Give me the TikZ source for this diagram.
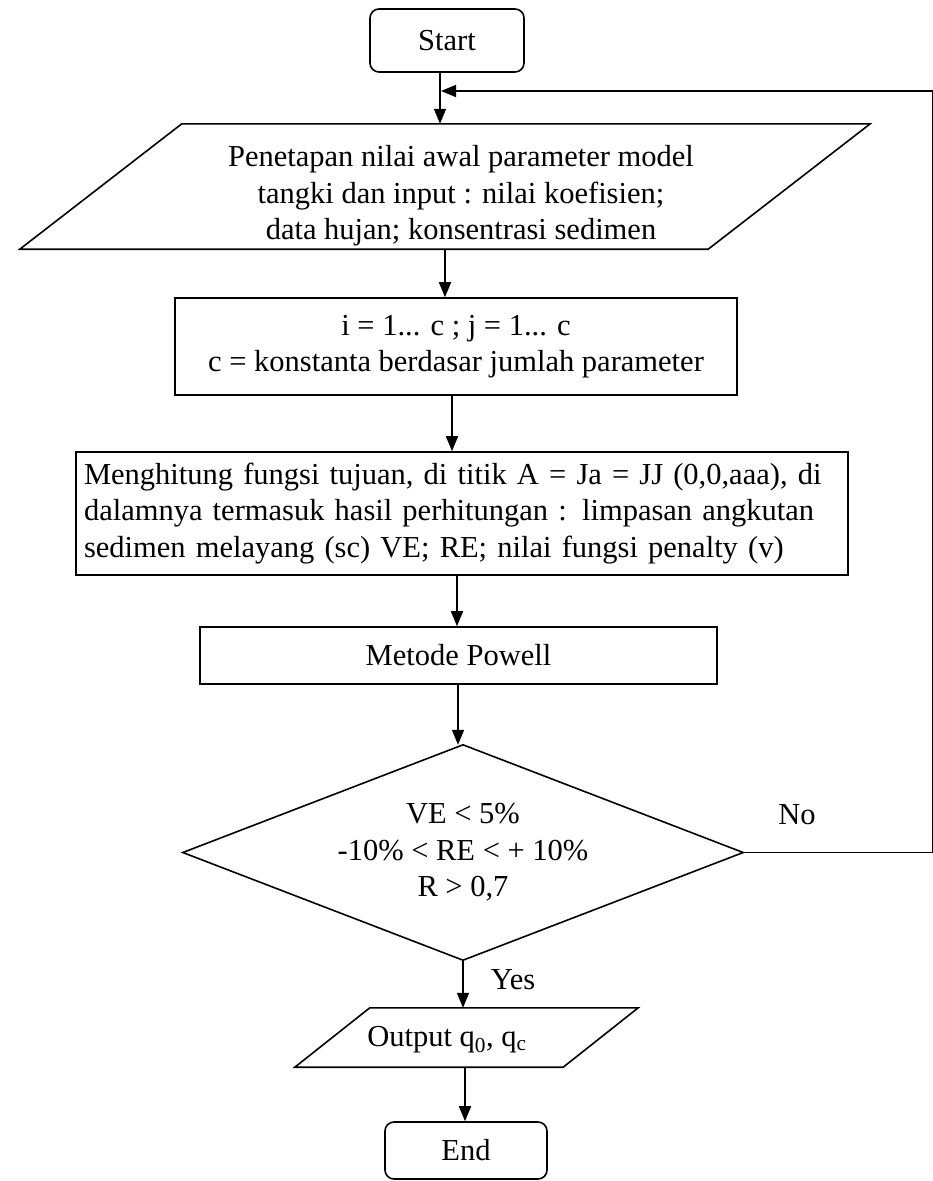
\documentclass[tikz,border=0pt]{standalone}
\usepackage{fontspec}
\setmainfont{Liberation Serif}
\usetikzlibrary{arrows.meta,calc}
\begin{document}
\begin{tikzpicture}[x=1pt,y=-1pt,
  every node/.style={font=\fontsize{30.5}{36.5}\selectfont},
  line/.style={line width=1.6pt},
  arr/.style={line width=1.6pt,-{Triangle[length=15pt,width=12pt]}},
  term/.style={draw,line width=1.6pt,rounded corners=9pt,inner sep=0pt},
  procbox/.style={draw,line width=1.6pt,inner sep=0pt,align=center},
  ghost/.style={inner sep=0pt,align=center},
  lbl/.style={inner sep=0pt,align=center}
]
\useasboundingbox (0,0) rectangle (932,1181);

% ---- nodes ----
\node[term,minimum width=154pt,minimum height=63pt] (start) at (447,40.5) {Start};

\node[ghost,minimum width=688pt,minimum height=125pt] (para) at (445,186.5) {};
\draw[line] ([xshift=81pt]para.north west) -- ([xshift=81pt]para.north east)
  -- ([xshift=-81pt]para.south east) -- ([xshift=-81pt]para.south west) -- cycle;
\node[lbl] (paratext) at (461,196)
  {Penetapan nilai awal parameter model\\ tangki dan input : nilai koefisien;\\ data hujan; konsentrasi sedimen};

\node[procbox,minimum width=562pt,minimum height=97pt] (ibox) at (456,346.5)
  {i = 1... c ; j = 1... c\\ c = konstanta berdasar jumlah parameter};

\node[draw,line width=1.6pt,minimum width=772pt,minimum height=123pt,
      text width=756pt,align=left,inner xsep=8pt,inner ysep=0pt] (meng) at (462,513.5)
  {\makebox[756pt][s]{Menghitung fungsi tujuan, di titik A = Ja = JJ (0,0,aaa), di}\\
   \makebox[756pt][s]{dalamnya termasuk hasil perhitungan : limpasan angkutan}\\
   sedimen melayang (sc) VE; RE; nilai fungsi penalty (v)};

\node[procbox,minimum width=517pt,minimum height=57pt] (met) at (458.5,655.5) {Metode Powell};

\node[ghost,minimum width=560pt,minimum height=215pt] (dia) at (463,852.5)
  {VE < 5\%\\ -10\% < RE < + 10\%\\ R > 0,7};
\draw[line] (dia.north) -- (dia.east) -- (dia.south) -- (dia.west) -- cycle;

\node[ghost,minimum width=268pt,minimum height=59pt] (out) at (466.5,1037.5) {};
\draw[line] ([xshift=37.5pt]out.north west) -- ([xshift=37.5pt]out.north east)
  -- ([xshift=-37.5pt]out.south east) -- ([xshift=-37.5pt]out.south west) -- cycle;
\node[lbl] (outtext) at (447,1040) {Output q\textsubscript{0}, q\textsubscript{c}};

\node[term,minimum width=162pt,minimum height=57pt] (end) at (466,1150.5) {End};

\node[lbl] (no) at (797,815) {No};
\node[lbl] (yes) at (513,980) {Yes};

\coordinate (fbR) at (932.6,91);

% ---- connectors ----
\draw[arr] ([xshift=-7pt]start.south) -- ([xshift=-7pt]start.south |- para.north);
\draw[arr] (dia.east) -- (dia.east -| fbR) -- (fbR) -- ([xshift=-6pt]start.south |- fbR);
\draw[arr] (para.south) -- (para.south |- ibox.north);
\draw[arr] ([xshift=-4pt]ibox.south) -- ([xshift=-4pt]ibox.south |- meng.north);
\draw[arr] ([xshift=-5pt]meng.south) -- ([xshift=-5pt]meng.south |- met.north);
\draw[arr] ([xshift=-0.5pt]met.south) -- ([xshift=-0.5pt]met.south |- dia.north);
\draw[arr] (dia.south) -- (dia.south |- out.north);
\draw[arr] ([xshift=-1pt]end.north |- out.south) -- ([xshift=-1pt]end.north);
\end{tikzpicture}
\end{document}
